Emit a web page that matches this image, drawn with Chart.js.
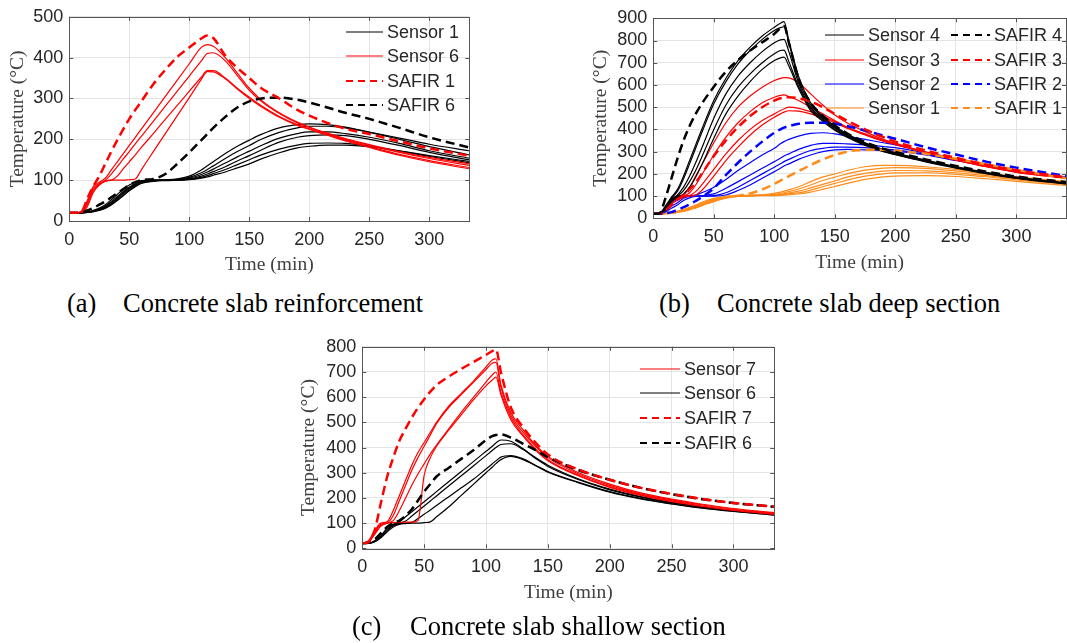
<!DOCTYPE html>
<html>
<head>
<meta charset="utf-8">
<script src="https://cdn.jsdelivr.net/npm/chart.js@4.4.0/dist/chart.umd.min.js"></script>
<style>
  body { margin: 0; background: #fff; width: 1067px; height: 643px; position: relative; overflow: hidden; }
  canvas { position: absolute; }
  .cap { position: absolute; font-family: "Liberation Serif", "Times New Roman", serif; font-size: 26.5px; line-height: 1; color: #000; white-space: nowrap; }
</style>
</head>
<body>
<canvas id="chartA" width="480" height="285" style="left:0px;top:0px"></canvas>
<canvas id="chartB" width="482" height="285" style="left:585px;top:0px"></canvas>
<canvas id="chartC" width="500" height="285" style="left:290px;top:330px"></canvas>

<div class="cap" style="left:67px;top:290px">(a)</div>
<div class="cap" style="left:123px;top:290px">Concrete slab reinforcement</div>
<div class="cap" style="left:659px;top:290px">(b)</div>
<div class="cap" style="left:717px;top:290px">Concrete slab deep section</div>
<div class="cap" style="left:352px;top:613px">(c)</div>
<div class="cap" style="left:410px;top:613px">Concrete slab shallow section</div>

<script>
// ---- (a) armature de la dalle ----
const tA = [0, 5, 10, 15, 20, 25, 30, 35, 40, 45, 50, 55, 60, 70, 80, 90, 100, 110, 115, 120, 130, 140, 150, 160, 175, 190, 200, 215, 230, 250, 275, 300, 333];
// Sensor 6 (rouge)
const aSensor6 = [
  [20, 20, 24, 50, 85, 95, 105, 125, 145, 165, 185, 205, 225, 265, 305, 345, 385, 425, 432, 428, 400, 362, 325, 296, 265, 242, 230, 215, 202, 187, 170, 156, 140],
  [20, 20, 22, 45, 80, 92, 100, 115, 133, 152, 170, 189, 207, 244, 281, 318, 355, 392, 410, 412, 392, 356, 320, 293, 263, 240, 229, 214, 200, 185, 168, 153, 136],
  [20, 20, 22, 40, 75, 90, 98, 100, 110, 128, 145, 162, 180, 214, 249, 283, 318, 352, 368, 368, 350, 325, 303, 282, 256, 236, 226, 212, 198, 182, 163, 148, 131],
  [20, 20, 21, 35, 70, 88, 97, 100, 100, 100, 101, 103, 125, 170, 214, 258, 302, 347, 366, 365, 348, 323, 300, 280, 254, 234, 224, 210, 196, 180, 161, 145, 128]
];
// Sensor 1 (noir)
const aSensor1 = [
  [20, 20, 20, 22, 26, 32, 40, 52, 65, 78, 88, 95, 99, 100, 101, 103, 110, 125, 135, 145, 165, 183, 198, 212, 228, 236, 238, 236, 230, 218, 203, 188, 172],
  [20, 20, 20, 22, 25, 30, 37, 48, 60, 72, 83, 91, 97, 100, 100, 102, 107, 118, 126, 135, 153, 170, 185, 200, 217, 228, 232, 232, 228, 217, 200, 182, 162],
  [20, 20, 20, 21, 24, 29, 35, 45, 57, 70, 81, 90, 96, 100, 100, 101, 105, 114, 120, 127, 142, 157, 171, 185, 203, 214, 218, 218, 214, 205, 190, 172, 154],
  [20, 20, 20, 21, 24, 28, 34, 43, 55, 68, 79, 88, 95, 99, 100, 100, 103, 110, 115, 121, 133, 147, 160, 174, 193, 205, 209, 211, 209, 200, 185, 168, 150],
  [20, 20, 20, 21, 23, 27, 32, 41, 52, 64, 76, 86, 93, 98, 100, 100, 102, 107, 111, 116, 126, 138, 150, 162, 176, 186, 190, 191, 190, 184, 172, 160, 146],
  [20, 20, 20, 21, 23, 26, 31, 39, 50, 62, 74, 84, 92, 97, 99, 100, 101, 105, 108, 112, 120, 130, 140, 152, 167, 179, 183, 186, 186, 182, 171, 158, 143]
];
const aSafir1 = [20, 20, 22, 55, 85, 110, 140, 170, 198, 225, 250, 272, 293, 335, 370, 402, 425, 447, 454, 448, 405, 375, 350, 325, 300, 272, 258, 240, 226, 213, 195, 178, 160];
const aSafir6 = [20, 20, 22, 26, 32, 40, 48, 58, 68, 78, 88, 95, 100, 103, 115, 140, 168, 198, 213, 228, 255, 278, 293, 300, 302, 297, 290, 278, 265, 250, 228, 205, 180];
const legendA = ["Sensor 1", "Sensor 6", "SAFIR 1", "SAFIR 6"];

// ---- (b) section profonde ----
const tB = [0, 5, 10, 15, 20, 25, 30, 35, 40, 50, 60, 70, 80, 90, 100, 105, 108, 112, 120, 130, 140, 150, 160, 175, 190, 200, 225, 250, 275, 300, 341];
const bSensor4 = [
  [20, 22, 55, 95, 130, 190, 260, 330, 400, 530, 630, 710, 770, 820, 860, 878, 885, 800, 640, 520, 460, 415, 380, 340, 310, 295, 262, 233, 207, 185, 160],
  [20, 22, 50, 90, 122, 178, 245, 315, 385, 515, 615, 695, 755, 805, 845, 858, 862, 790, 625, 510, 455, 410, 376, 337, 307, 292, 260, 231, 205, 183, 158],
  [20, 22, 45, 85, 105, 140, 190, 250, 315, 450, 560, 640, 700, 750, 790, 803, 805, 750, 610, 500, 448, 405, 372, 334, 305, 290, 258, 229, 204, 182, 157],
  [20, 21, 40, 80, 100, 125, 165, 215, 275, 400, 510, 590, 650, 700, 740, 755, 757, 705, 595, 492, 442, 400, 368, 331, 302, 288, 256, 228, 203, 181, 156],
  [20, 21, 38, 75, 95, 110, 140, 185, 240, 360, 470, 550, 615, 670, 710, 722, 725, 685, 585, 485, 437, 396, 365, 328, 300, 286, 254, 226, 201, 180, 155]
];
const bSensor3 = [
  [20, 22, 45, 85, 100, 105, 140, 190, 240, 340, 430, 500, 550, 590, 620, 630, 633, 632, 610, 560, 510, 465, 430, 390, 355, 338, 298, 265, 235, 210, 183],
  [20, 22, 42, 80, 95, 100, 115, 150, 195, 285, 365, 430, 480, 520, 545, 553, 555, 548, 530, 500, 470, 440, 410, 380, 350, 335, 297, 264, 234, 209, 182],
  [20, 21, 38, 72, 90, 100, 103, 120, 150, 220, 290, 350, 400, 440, 470, 485, 492, 500, 495, 480, 460, 435, 410, 378, 348, 333, 296, 263, 233, 208, 181],
  [20, 21, 35, 65, 80, 95, 100, 105, 125, 190, 260, 320, 375, 420, 455, 470, 478, 484, 482, 470, 452, 430, 405, 375, 347, 332, 295, 262, 232, 207, 180]
];
const bSensor2 = [
  [20, 22, 40, 80, 95, 100, 102, 105, 115, 140, 175, 215, 250, 285, 315, 335, 345, 355, 370, 382, 385, 380, 370, 355, 340, 330, 298, 268, 240, 214, 185],
  [20, 21, 35, 70, 85, 95, 100, 100, 102, 110, 135, 165, 195, 225, 255, 270, 280, 290, 310, 328, 337, 337, 335, 330, 323, 318, 293, 265, 238, 212, 183],
  [20, 21, 30, 55, 70, 90, 98, 100, 100, 102, 115, 140, 170, 200, 230, 245, 255, 265, 285, 305, 315, 320, 320, 318, 312, 308, 288, 262, 236, 211, 182],
  [20, 20, 28, 45, 60, 80, 92, 98, 100, 100, 105, 125, 150, 180, 210, 225, 235, 245, 265, 285, 300, 308, 310, 308, 305, 302, 285, 260, 235, 210, 181]
];
const bSensor1 = [
  [20, 20, 22, 26, 32, 40, 50, 60, 72, 90, 99, 102, 104, 106, 112, 118, 122, 128, 142, 165, 185, 200, 215, 232, 238, 238, 232, 220, 205, 188, 165],
  [20, 20, 22, 25, 30, 37, 46, 56, 67, 86, 97, 101, 103, 105, 108, 112, 115, 120, 132, 150, 170, 185, 200, 217, 226, 228, 225, 213, 198, 182, 160],
  [20, 20, 21, 24, 29, 35, 43, 52, 63, 82, 95, 100, 102, 104, 105, 108, 110, 114, 122, 137, 153, 168, 185, 202, 212, 215, 213, 205, 192, 178, 158],
  [20, 20, 21, 24, 28, 34, 41, 50, 60, 79, 93, 99, 101, 103, 103, 105, 107, 110, 115, 127, 142, 157, 172, 190, 200, 204, 205, 198, 187, 173, 153],
  [20, 20, 21, 23, 27, 32, 39, 47, 57, 76, 91, 98, 100, 102, 102, 103, 104, 106, 110, 118, 130, 143, 157, 175, 186, 190, 192, 188, 178, 166, 148]
];
const bSafir4 = [20, 22, 90, 180, 270, 350, 415, 470, 515, 592, 660, 712, 755, 792, 830, 855, 865, 790, 630, 520, 462, 418, 382, 343, 313, 298, 265, 236, 210, 188, 163];
const bSafir3 = [20, 22, 35, 60, 85, 105, 130, 160, 200, 280, 350, 410, 460, 500, 530, 540, 543, 545, 540, 525, 500, 470, 440, 400, 365, 345, 305, 272, 242, 216, 185];
const bSafir2 = [20, 20, 22, 28, 38, 50, 62, 78, 95, 135, 195, 250, 300, 345, 385, 400, 408, 415, 425, 430, 430, 425, 415, 395, 372, 358, 320, 287, 255, 228, 190];
const bSafir1 = [20, 20, 22, 25, 28, 34, 42, 50, 60, 78, 95, 102, 112, 130, 155, 170, 178, 190, 212, 240, 265, 285, 300, 308, 308, 305, 290, 268, 243, 218, 180];
const legendB = ["Sensor 4", "Sensor 3", "Sensor 2", "Sensor 1", "SAFIR 4", "SAFIR 3", "SAFIR 2", "SAFIR 1"];

// ---- (c) section mince ----
const tC = [0, 5, 10, 15, 20, 25, 30, 35, 40, 45, 50, 55, 60, 70, 80, 90, 100, 105, 108, 112, 120, 130, 140, 150, 175, 200, 225, 250, 275, 300, 333];
const cSensor7 = [
  [20, 30, 70, 100, 105, 150, 210, 270, 330, 380, 420, 460, 500, 565, 615, 665, 720, 748, 752, 650, 540, 470, 410, 365, 300, 255, 220, 195, 175, 158, 142],
  [20, 28, 65, 95, 100, 130, 190, 250, 310, 360, 405, 450, 495, 560, 610, 660, 710, 735, 738, 640, 530, 460, 405, 360, 295, 250, 216, 192, 172, 155, 140],
  [20, 25, 60, 92, 100, 110, 150, 200, 250, 295, 335, 375, 410, 475, 540, 600, 660, 688, 700, 620, 520, 450, 395, 352, 290, 245, 212, 188, 168, 152, 137],
  [20, 25, 55, 88, 100, 102, 103, 104, 104, 110, 290, 360, 405, 470, 530, 590, 645, 668, 680, 610, 510, 445, 390, 348, 287, 242, 210, 185, 166, 150, 135]
];
const cSensor6 = [
  [20, 20, 30, 50, 80, 95, 105, 125, 145, 165, 185, 205, 225, 265, 305, 345, 385, 405, 418, 430, 425, 395, 360, 330, 275, 235, 205, 182, 165, 150, 137],
  [20, 20, 28, 48, 75, 92, 100, 108, 128, 148, 168, 188, 208, 248, 288, 328, 368, 388, 400, 412, 415, 392, 357, 325, 272, 232, 203, 180, 163, 148, 135],
  [20, 20, 27, 45, 70, 90, 98, 100, 103, 118, 135, 152, 170, 205, 240, 275, 315, 335, 347, 362, 368, 355, 330, 305, 262, 225, 198, 177, 160, 147, 133],
  [20, 20, 25, 42, 65, 85, 95, 98, 100, 100, 102, 105, 125, 165, 210, 255, 300, 322, 336, 352, 365, 352, 328, 302, 260, 223, 196, 176, 159, 146, 132]
];
const cSafir7 = [20, 25, 72, 180, 282, 360, 427, 475, 519, 558, 592, 622, 648, 682, 712, 740, 768, 783, 790, 700, 560, 480, 420, 372, 312, 272, 240, 216, 196, 180, 166];
const cSafir6 = [20, 22, 35, 60, 85, 100, 110, 130, 155, 190, 225, 255, 285, 320, 355, 390, 430, 445, 450, 452, 440, 415, 390, 362, 310, 272, 240, 215, 195, 180, 165];
const legendC = ["Sensor 7", "Sensor 6", "SAFIR 7", "SAFIR 6"];

const RED = "#ff0000";
const BLACK = "#000000";
const BLUE = "#0000ff";
const ORANGE = "#ff8c1a";
const DASH = [9, 5];
const SANS = '"Liberation Sans", Arial, sans-serif';
const SERIF = '"Liberation Serif", "Times New Roman", serif';

function sensor(t, v, color) {
  return {
    data: t.map((x, i) => ({ x: x, y: v[i] })),
    borderColor: color, borderWidth: 1.2, pointRadius: 0,
    cubicInterpolationMode: "monotone", fill: false
  };
}
function safir(t, v, color) {
  return {
    data: t.map((x, i) => ({ x: x, y: v[i] })),
    borderColor: color, borderWidth: 2.5, borderDash: DASH, pointRadius: 0,
    cubicInterpolationMode: "monotone", fill: false
  };
}

// cadre type MATLAB + petites graduations vers l'interieur
const framePlugin = {
  id: "frame",
  afterDraw(chart) {
    const ctx = chart.ctx;
    const a = chart.chartArea;
    const sx = chart.scales.x, sy = chart.scales.y;
    ctx.save();
    ctx.strokeStyle = "#555";
    ctx.lineWidth = 1;
    ctx.strokeRect(Math.round(a.left) + 0.5, Math.round(a.top) + 0.5, Math.round(a.right - a.left), Math.round(a.bottom - a.top));
    ctx.beginPath();
    sx.ticks.forEach(tk => {
      const px = Math.round(sx.getPixelForValue(tk.value)) + 0.5;
      ctx.moveTo(px, a.bottom); ctx.lineTo(px, a.bottom - 4);
      ctx.moveTo(px, a.top); ctx.lineTo(px, a.top + 4);
    });
    sy.ticks.forEach(tk => {
      const py = Math.round(sy.getPixelForValue(tk.value)) + 0.5;
      ctx.moveTo(a.left, py); ctx.lineTo(a.left + 4, py);
      ctx.moveTo(a.right, py); ctx.lineTo(a.right - 4, py);
    });
    ctx.stroke();
    ctx.restore();
  }
};

// legende dessinee dans la zone du graphique
const legendPlugin = {
  id: "matLegend",
  afterDraw(chart, args, opts) {
    const ctx = chart.ctx;
    ctx.save();
    ctx.font = "18px " + SANS;
    ctx.textBaseline = "middle";
    opts.items.forEach(it => {
      ctx.strokeStyle = it.color;
      ctx.lineWidth = it.dashed ? 2 : 1.2;
      ctx.setLineDash(it.dashed ? [7, 5] : []);
      ctx.beginPath();
      ctx.moveTo(it.x1, it.y);
      ctx.lineTo(it.x2, it.y);
      ctx.stroke();
      ctx.setLineDash([]);
      ctx.fillStyle = "#262626";
      ctx.fillText(it.text, it.x2 + 4, it.y + 1);
    });
    ctx.restore();
  }
};

function makeChart(id, datasets, xmax, ymax, box, legendItems) {
  const ctx = document.getElementById(id).getContext("2d");
  return new Chart(ctx, {
    type: "line",
    data: { datasets: datasets },
    plugins: [framePlugin, legendPlugin],
    options: {
      responsive: false,
      animation: false,
      devicePixelRatio: 1,
      layout: { autoPadding: false, padding: box.pad },
      plugins: {
        legend: { display: false },
        tooltip: { enabled: false },
        matLegend: { items: legendItems }
      },
      scales: {
        x: {
          type: "linear", min: 0, max: xmax,
          grid: { color: "#e4e4e4", drawTicks: false },
          border: { display: false },
          ticks: { stepSize: 50, includeBounds: false, autoSkip: false, maxRotation: 0, padding: 8, color: "#262626", font: { family: SANS, size: 18 } },
          title: { display: true, text: "Time (min)", color: "#404040", font: { family: SERIF, size: 19.5 } },
          afterFit: s => { s.height = box.xh; }
        },
        y: {
          min: 0, max: ymax,
          grid: { color: "#e4e4e4", drawTicks: false },
          border: { display: false },
          ticks: { stepSize: 100, autoSkip: false, padding: 6, color: "#262626", font: { family: SANS, size: 18 } },
          title: { display: true, text: "Temperature (°C)", color: "#404040", font: { family: SERIF, size: 19.5 } },
          afterFit: s => { s.width = box.yw; }
        }
      }
    }
  });
}

// panneau (a)
let dsA = [safir(tA, aSafir1, RED), safir(tA, aSafir6, BLACK)];
aSensor6.forEach(v => dsA.push(sensor(tA, v, RED)));
aSensor1.forEach(v => dsA.push(sensor(tA, v, BLACK)));
const itemsA = [
  { text: legendA[0], color: BLACK, dashed: false, x1: 346, x2: 383, y: 32 },
  { text: legendA[1], color: RED, dashed: false, x1: 346, x2: 383, y: 56 },
  { text: legendA[2], color: RED, dashed: true, x1: 346, x2: 383, y: 81 },
  { text: legendA[3], color: BLACK, dashed: true, x1: 346, x2: 383, y: 105 }
];
makeChart("chartA", dsA, 333.3, 500,
  { pad: { left: 2.6, top: 15, right: 10.7, bottom: 4 }, yw: 66.7, xh: 60 }, itemsA);

// panneau (b)
let dsB = [safir(tB, bSafir4, BLACK), safir(tB, bSafir3, RED), safir(tB, bSafir2, BLUE), safir(tB, bSafir1, ORANGE)];
bSensor4.forEach(v => dsB.push(sensor(tB, v, BLACK)));
bSensor3.forEach(v => dsB.push(sensor(tB, v, RED)));
bSensor2.forEach(v => dsB.push(sensor(tB, v, BLUE)));
bSensor1.forEach(v => dsB.push(sensor(tB, v, ORANGE)));
const colsB = [BLACK, RED, BLUE, ORANGE];
const rowsB = [35, 60, 84, 108];
let itemsB = [];
for (let i = 0; i < 4; i++) {
  itemsB.push({ text: legendB[i], color: colsB[i], dashed: false, x1: 240, x2: 279, y: rowsB[i] });
  itemsB.push({ text: legendB[i + 4], color: colsB[i], dashed: true, x1: 366, x2: 405, y: rowsB[i] });
}
makeChart("chartB", dsB, 341, 900,
  { pad: { left: 0.3, top: 18.3, right: 1, bottom: 6.3 }, yw: 68, xh: 60.4 }, itemsB);

// panneau (c)
let dsC = [safir(tC, cSafir7, RED), safir(tC, cSafir6, BLACK)];
cSensor7.forEach(v => dsC.push(sensor(tC, v, RED)));
cSensor6.forEach(v => dsC.push(sensor(tC, v, BLACK)));
const itemsC = [
  { text: legendC[0], color: RED, dashed: false, x1: 350, x2: 390, y: 39 },
  { text: legendC[1], color: BLACK, dashed: false, x1: 350, x2: 390, y: 63 },
  { text: legendC[2], color: RED, dashed: true, x1: 350, x2: 390, y: 88 },
  { text: legendC[3], color: BLACK, dashed: true, x1: 350, x2: 390, y: 113 }
];
makeChart("chartC", dsC, 333, 800,
  { pad: { left: 2.9, top: 15, right: 15.7, bottom: 6.3 }, yw: 69.4, xh: 60.4 }, itemsC);
</script>
</body>
</html>
